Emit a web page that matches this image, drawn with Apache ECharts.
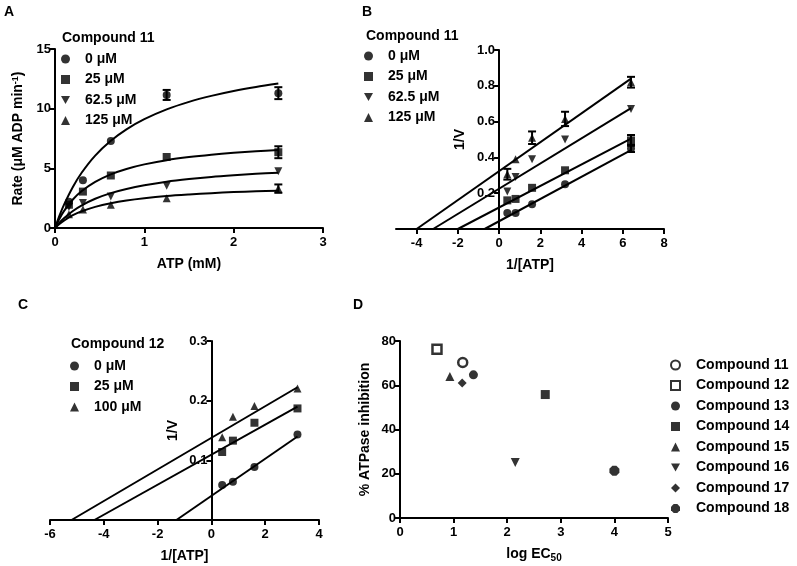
<!doctype html>
<html>
<head>
<meta charset="utf-8">
<script src="https://cdn.jsdelivr.net/npm/echarts@6/dist/echarts.min.js"></script>
<style>
  html, body { margin: 0; padding: 0; background: #fff; }
  #main { width: 797px; height: 566px; }
</style>
</head>
<body>
<div id="main"></div>
<script>
var FONT = '"Liberation Sans", Arial, sans-serif';
var DOWN = 'path://M0,0L10,0L5,9Z';
var OCT = 'path://M3,0L7,0L10,3L10,7L7,10L3,10L0,7L0,3Z';

// A: rate vs ATP, compound 11
var atp = [0.156, 0.3125, 0.625, 1.25, 2.5];
var concA = ['0 μM', '25 μM', '62.5 μM', '125 μM'];
var rateA = [
  [2.2, 4.0, 7.3, 11.15, 11.3],
  [1.95, 3.05, 4.4, 5.95, 6.35],
  [1.75, 2.1, 2.65, 3.55, 4.75],
  [1.15, 1.55, 1.95, 2.5, 3.3]
];
var rateErrA = [
  [0, 0, 0, 0.42, 0.5],
  [0, 0, 0, 0, 0.5],
  [0, 0, 0, 0, 0],
  [0, 0, 0, 0, 0.35]
];
var fitAtp = [0, 0.05, 0.1, 0.2, 0.3, 0.45, 0.625, 0.8, 1.0, 1.25, 1.5, 1.75, 2.0, 2.25, 2.5];
var fitRateA = [
  [0, 1.03, 1.94, 3.44, 4.65, 6.07, 7.31, 8.27, 9.12, 9.94, 10.57, 11.07, 11.48, 11.82, 12.11],
  [0, 0.78, 1.41, 2.39, 3.10, 3.87, 4.50, 4.95, 5.33, 5.68, 5.94, 6.14, 6.30, 6.43, 6.54],
  [0, 0.44, 0.81, 1.42, 1.90, 2.45, 2.92, 3.27, 3.58, 3.88, 4.10, 4.28, 4.42, 4.54, 4.64],
  [0, 0.34, 0.62, 1.07, 1.40, 1.77, 2.08, 2.31, 2.50, 2.68, 2.81, 2.92, 3.01, 3.08, 3.13]
];

// B: double reciprocal, compound 11
var invAtpB = [0.4, 0.8, 1.6, 3.2, 6.4];
var invVB = [
  [0.09, 0.09, 0.138, 0.25, 0.45],
  [0.16, 0.168, 0.23, 0.328, 0.495],
  [0.21, 0.29, 0.39, 0.50, 0.67],
  [0.306, 0.39, 0.51, 0.615, 0.82]
];
var invVErrB = [
  [0, 0, 0, 0, 0.02],
  [0, 0, 0, 0, 0.03],
  [0, 0, 0, 0, 0],
  [0.03, 0, 0.035, 0.04, 0.03]
];
var lineStartB = [-0.7, -2.0, -3.2, -4.0];
var lineEndXB = 6.4;
var lineEndB = [0.44, 0.505, 0.675, 0.84];
var ticksB = [-4, -2, 0, 2, 4, 6, 8];

// C: double reciprocal, compound 12
var concC = ['0 μM', '25 μM', '100 μM'];
var invAtpC = [0.4, 0.8, 1.6, 3.2];
var invVC = [
  [0.0586, 0.064, 0.089, 0.1435],
  [0.114, 0.133, 0.163, 0.187],
  [0.1385, 0.173, 0.191, 0.2206]
];
var lineStartC = [-1.3, -4.35, -5.2];
var lineEndXC = 3.2;
var lineEndC = [0.14, 0.19, 0.2225];

// D: inhibition vs log EC50
var compounds = ['Compound 11', 'Compound 12', 'Compound 13', 'Compound 14',
                 'Compound 15', 'Compound 16', 'Compound 17', 'Compound 18'];
var logEC50 = [1.17, 0.69, 1.37, 2.71, 0.93, 2.15, 1.16, 4.0];
var inhibition = [70.3, 76.3, 64.7, 55.8, 64.0, 25.1, 61.0, 21.4];

var symA = ['circle', 'rect', DOWN, 'triangle'];
var symC = ['circle', 'rect', 'triangle'];
var symD = ['circle', 'rect', 'circle', 'rect', 'triangle', DOWN, 'diamond', OCT];
var openD = [true, true, false, false, false, false, false, false];

var chart = echarts.init(document.getElementById('main'));

var txt = { fontFamily: FONT, fontWeight: 'bold', color: '#000' };
var tickStyle = { show: true, length: 5, lineStyle: { color: '#000', width: 2 } };

function axis(o) {
  return Object.assign({
    type: 'value',
    splitLine: { show: false },
    axisLine: { show: true, onZero: false, lineStyle: { color: '#000', width: 2 } },
    axisTick: tickStyle,
    axisLabel: Object.assign({ fontSize: 13, margin: 4 }, txt),
    nameLocation: 'middle',
    nameTextStyle: Object.assign({ fontSize: 14 }, txt)
  }, o);
}

function zip(xs, ys) {
  return xs.map(function (x, i) { return [x, ys[i]]; });
}

function errBar(params, api) {
  var x = api.value(0), y = api.value(1), e = api.value(2);
  var hi = api.coord([x, y + e]), lo = api.coord([x, y - e]);
  var w = 4, st = { stroke: '#000', lineWidth: 2 };
  return {
    type: 'group',
    children: [
      { type: 'line', shape: { x1: hi[0], y1: hi[1], x2: lo[0], y2: lo[1] }, style: st },
      { type: 'line', shape: { x1: hi[0] - w, y1: hi[1], x2: hi[0] + w, y2: hi[1] }, style: st },
      { type: 'line', shape: { x1: lo[0] - w, y1: lo[1], x2: lo[0] + w, y2: lo[1] }, style: st }
    ]
  };
}

var series = [];

function addPanel(grid, names, xs, ys, errs, syms) {
  names.forEach(function (n, i) {
    series.push({
      type: 'scatter', name: n, xAxisIndex: grid, yAxisIndex: grid,
      symbol: syms[i], symbolSize: 8,
      itemStyle: { color: '#000' },
      data: zip(xs, ys[i]), z: 3
    });
    if (errs) {
      var eb = [];
      xs.forEach(function (x, j) { if (errs[i][j] > 0) eb.push([x, ys[i][j], errs[i][j]]); });
      if (eb.length) {
        series.push({
          type: 'custom', name: n + ' err', xAxisIndex: grid, yAxisIndex: grid,
          renderItem: errBar, data: eb, z: 4, silent: true
        });
      }
    }
  });
}

function addLine(grid, name, data, smooth) {
  series.push({
    type: 'line', name: name, xAxisIndex: grid, yAxisIndex: grid,
    data: data, symbol: 'none', smooth: smooth || false, silent: true,
    lineStyle: { color: '#000', width: 2 }, z: 2
  });
}

// A
addPanel(0, concA, atp, rateA, rateErrA, symA);
fitRateA.forEach(function (f, i) { addLine(0, 'fitA' + i, zip(fitAtp, f), 0.3); });
// B
addPanel(1, concA, invAtpB, invVB, invVErrB, symA);
lineEndB.forEach(function (y, i) { addLine(1, 'fitB' + i, [[lineStartB[i], 0], [lineEndXB, y]]); });
// C
addPanel(2, concC, invAtpC, invVC, null, symC);
lineEndC.forEach(function (y, i) { addLine(2, 'fitC' + i, [[lineStartC[i], 0], [lineEndXC, y]]); });
// D
compounds.forEach(function (n, i) {
  series.push({
    type: 'scatter', name: n, xAxisIndex: 3, yAxisIndex: 3,
    symbol: symD[i], symbolSize: i === 7 ? 10 : 9,
    itemStyle: openD[i] ? { color: '#fff', borderColor: '#000', borderWidth: 2.5 } : { color: '#000' },
    data: [[logEC50[i], inhibition[i]]]
  });
});

function legendOf(names, syms, left, top, pad) {
  return {
    orient: 'vertical', left: left, top: top, padding: 0,
    itemWidth: 9, itemHeight: 9, itemGap: 6.5, selectedMode: false,
    data: names.map(function (n, i) { return { name: n, icon: syms[i] }; }),
    textStyle: Object.assign({ fontSize: 14, lineHeight: 14, padding: [0, 0, 0, pad] }, txt)
  };
}

function label(t, left, top) {
  return { text: t, left: left, top: top, padding: 0, textStyle: Object.assign({ fontSize: 14 }, txt) };
}

var supRich = {
  sup: { fontSize: 9, fontFamily: FONT, fontWeight: 'bold', color: '#000', verticalAlign: 'top', lineHeight: 12 },
  sub: { fontSize: 10, fontFamily: FONT, fontWeight: 'bold', color: '#000', verticalAlign: 'bottom', lineHeight: 18 }
};

var tenth = function (v) { return v === 0 ? '' : v.toFixed(1); };

// grid geometry; the B and C y axes sit on x = 0
var gridA = { left: 55, top: 49, width: 268, height: 179, outerBoundsMode: 'none' };
var gridB = { left: 396, top: 50, width: 268, height: 179, outerBoundsMode: 'none' };
var gridC = { left: 50, top: 341, width: 269, height: 179, outerBoundsMode: 'none' };
var gridD = { left: 400, top: 341, width: 268, height: 177, outerBoundsMode: 'none' };
var offB = -gridB.width * 5 / 13;
var offC = -gridC.width * 6 / 10;

chart.setOption({
  animation: false,
  backgroundColor: '#fff',
  title: [
    label('A', 4, 5), label('B', 362, 5), label('C', 18, 298), label('D', 353, 298),
    label('Compound 11', 62, 31), label('Compound 11', 366, 29), label('Compound 12', 71, 337)
  ],
  legend: [
    legendOf(concA, symA, 61, 52, 10),
    legendOf(concA, symA, 364, 49, 10),
    legendOf(concC, symC, 70, 359, 10),
    legendOf(compounds, symD, 670, 358, 11)
  ],
  grid: [gridA, gridB, gridC, gridD],
  xAxis: [
    axis({ gridIndex: 0, min: 0, max: 3, interval: 1, name: 'ATP (mM)', nameGap: 29,
           axisLabel: Object.assign({ fontSize: 13, margin: 8 }, txt) }),
    axis({ gridIndex: 1, min: -5, max: 8, interval: 1, name: '1/[ATP]', nameGap: 29,
           axisLabel: Object.assign({ fontSize: 13, margin: 8, customValues: ticksB }, txt),
           axisTick: Object.assign({ customValues: ticksB }, tickStyle) }),
    axis({ gridIndex: 2, min: -6, max: 4, interval: 2, name: '1/[ATP]', nameGap: 29,
           axisLabel: Object.assign({ fontSize: 13, margin: 8 }, txt) }),
    axis({ gridIndex: 3, min: 0, max: 5, interval: 1, name: 'log EC{sub|50}', nameGap: 27,
           axisLabel: Object.assign({ fontSize: 13, margin: 8 }, txt),
           nameTextStyle: Object.assign({ fontSize: 14, rich: supRich }, txt) })
  ],
  yAxis: [
    axis({ gridIndex: 0, min: 0, max: 15, interval: 5, name: 'Rate (μM ADP min{sup|-1})', nameGap: 30,
           nameTextStyle: Object.assign({ fontSize: 14, rich: supRich }, txt) }),
    axis({ gridIndex: 1, min: 0, max: 1, interval: 0.2, name: '1/V', nameGap: 32, offset: offB,
           axisLabel: Object.assign({ fontSize: 13, margin: 4, formatter: tenth }, txt) }),
    axis({ gridIndex: 2, min: 0, max: 0.3, interval: 0.1, name: '1/V', nameGap: 31, offset: offC,
           axisLabel: Object.assign({ fontSize: 13, margin: 4, formatter: tenth }, txt) }),
    axis({ gridIndex: 3, min: 0, max: 80, interval: 20, name: '% ATPase inhibition', nameGap: 28 })
  ],
  series: series
});

window.addEventListener('resize', function () { chart.resize(); });
</script>
</body>
</html>
